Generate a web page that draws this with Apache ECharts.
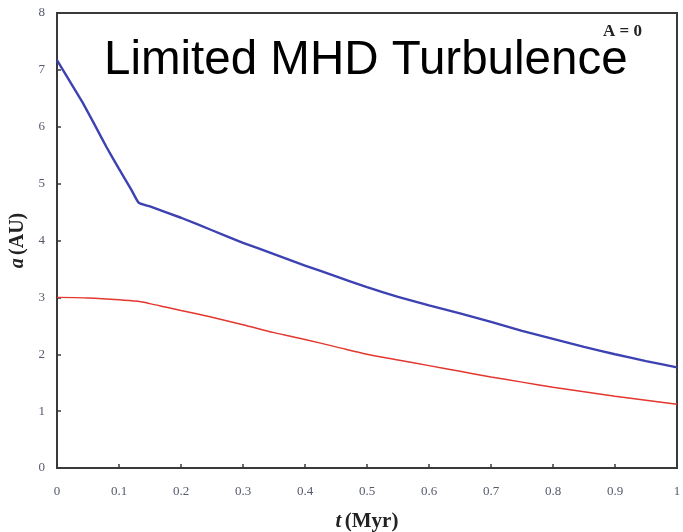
<!DOCTYPE html>
<html>
<head>
<meta charset="utf-8">
<script src="https://cdn.jsdelivr.net/npm/echarts@6/dist/echarts.min.js"></script>
<style>
  html, body { margin: 0; padding: 0; background: #fff; }
  #chart { width: 683px; height: 532px; }
</style>
</head>
<body>
<div id="chart"></div>
<script>
// Semi-major axis a (AU) versus time t (Myr)
const blueT = [0, 0.02, 0.04, 0.06, 0.08, 0.10, 0.12, 0.132, 0.15, 0.20, 0.25, 0.30, 0.35, 0.40, 0.45, 0.50, 0.55, 0.60, 0.65, 0.70, 0.75, 0.80, 0.85, 0.90, 0.95, 1.00];
const blueA = [7.17, 6.81, 6.45, 6.05, 5.64, 5.26, 4.89, 4.66, 4.60, 4.40, 4.18, 3.96, 3.76, 3.56, 3.37, 3.18, 3.01, 2.86, 2.72, 2.57, 2.41, 2.27, 2.13, 2.00, 1.88, 1.77];

const redT = [0, 0.05, 0.10, 0.13, 0.15, 0.175, 0.20, 0.25, 0.30, 0.35, 0.40, 0.45, 0.50, 0.55, 0.60, 0.65, 0.70, 0.75, 0.80, 0.85, 0.90, 0.95, 1.00];
const redA = [3.00, 2.99, 2.96, 2.93, 2.89, 2.83, 2.77, 2.65, 2.52, 2.38, 2.26, 2.13, 2.00, 1.90, 1.80, 1.70, 1.60, 1.51, 1.42, 1.34, 1.26, 1.19, 1.12];

const xTicks = { min: 0, max: 1, step: 0.1 };
const yTicks = { min: 0, max: 8, step: 1 };

const pairs = (xs, ys) => xs.map((x, i) => [x, ys[i]]);

const serif = '"Liberation Serif", "DejaVu Serif", serif';
const tickLabel = { fontFamily: serif, fontSize: 13, color: '#55596c' };
const axisLine = { show: true, lineStyle: { color: '#3a3a3a', width: 2 } };
const axisTick = { show: true, inside: true, length: 4, lineStyle: { color: '#3a3a3a', width: 1.5 } };

const chart = echarts.init(document.getElementById('chart'), null, { renderer: 'canvas' });
chart.setOption({
  backgroundColor: '#ffffff',
  animation: false,
  grid: {
    left: 57, right: 6, top: 13, bottom: 64,
    outerBoundsMode: 'none', containLabel: false,
    show: true, borderColor: '#3a3a3a', borderWidth: 2, backgroundColor: 'transparent'
  },
  title: {
    text: 'Limited MHD Turbulence',
    left: 99, top: 32,
    textStyle: { fontFamily: '"Liberation Sans", Arial, sans-serif', fontSize: 47.5, fontWeight: 'normal', color: '#000' }
  },
  graphic: [
    {
      type: 'text', left: 603, top: 23,
      style: { text: 'A = 0', font: 'bold 17px "Liberation Serif", serif', fill: '#222' }
    }
  ],
  xAxis: {
    type: 'value', min: xTicks.min, max: xTicks.max, interval: xTicks.step,
    axisLine, axisTick,
    splitLine: { show: false },
    axisLabel: Object.assign({ margin: 17 }, tickLabel),
    name: '{i|t} {b|(Myr)}', nameLocation: 'middle', nameGap: 43,
    nameTextStyle: {
      rich: {
        i: { fontFamily: serif, fontSize: 21, fontWeight: 'bold', fontStyle: 'italic', color: '#222' },
        b: { fontFamily: serif, fontSize: 21, fontWeight: 'bold', color: '#222' }
      }
    }
  },
  yAxis: {
    type: 'value', min: yTicks.min, max: yTicks.max, interval: yTicks.step,
    axisLine, axisTick,
    splitLine: { show: false },
    axisLabel: Object.assign({ margin: 12 }, tickLabel),
    name: '{i|a} {b|(AU)}', nameLocation: 'middle', nameGap: 26, nameRotate: 90,
    nameTextStyle: {
      rich: {
        i: { fontFamily: serif, fontSize: 20, fontWeight: 'bold', fontStyle: 'italic', color: '#222' },
        b: { fontFamily: serif, fontSize: 20, fontWeight: 'bold', color: '#222' }
      }
    }
  },
  series: [
    {
      type: 'line', data: pairs(blueT, blueA), showSymbol: false, smooth: 0.15,
      lineStyle: { color: '#3c42b2', width: 2.4 }, z: 3
    },
    {
      type: 'line', data: pairs(redT, redA), showSymbol: false, smooth: 0.3,
      lineStyle: { color: '#e3372f', width: 1.5 }, z: 2
    }
  ]
});
</script>
</body>
</html>
